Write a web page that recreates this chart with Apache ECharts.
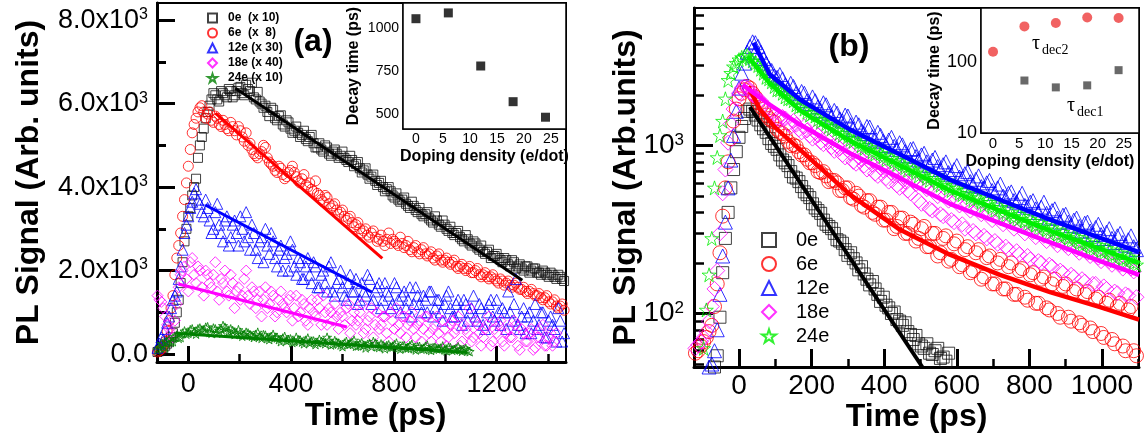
<!DOCTYPE html>
<html><head><meta charset="utf-8">
<script src="https://cdn.jsdelivr.net/npm/echarts@6/dist/echarts.min.js"></script>
<style>html,body{margin:0;padding:0;background:#fff}#c{width:1148px;height:445px}</style>
</head><body><div id="c"></div>
<script>
// ---------- DATA ----------
const time = [-120,-105,-90,-75,-60,-45,-30,-15,0,15,30,45,60,75,90,105,120,135,150,165,180,195,210,225,240,255,270,285,300,315,330,345,360,375,390,405,420,435,450,465,480,495,510,525,540,555,570,585,600,615,630,645,660,675,690,705,720,735,750,765,780,795,810,825,840,855,870,885,900,915,930,945,960,975,990,1005,1020,1035,1050,1065,1080,1095,1110,1125,1140,1155,1170,1185,1200,1215,1230,1245,1260,1275,1290,1305,1320,1335,1350,1365,1380,1395,1410,1425,1440,1455];
const time2 = [-112.5,-97.5,-82.5,-67.5,-52.5,-37.5,-22.5,-7.5,7.5,22.5,37.5,52.5,67.5,82.5,97.5,112.5,127.5,142.5,157.5,172.5,187.5,202.5,217.5,232.5,247.5,262.5,277.5,292.5,307.5,322.5,337.5,352.5,367.5,382.5,397.5,412.5,427.5,442.5,457.5,472.5,487.5,502.5,517.5,532.5,547.5,562.5,577.5,592.5,607.5,622.5,637.5,652.5,667.5,682.5,697.5,712.5,727.5,742.5,757.5,772.5,787.5,802.5,817.5,832.5,847.5,862.5,877.5,892.5,907.5,922.5,937.5,952.5,967.5,982.5,997.5,1012.5,1027.5,1042.5,1057.5,1072.5,1087.5,1102.5,1117.5,1132.5,1147.5,1162.5,1177.5,1192.5,1207.5,1222.5,1237.5,1252.5,1267.5,1282.5,1297.5,1312.5,1327.5,1342.5,1357.5,1372.5,1387.5,1402.5,1417.5,1432.5,1447.5,1462.5];

// panel (a) : linear PL signal (scaled) — values on time, then on time2
const a0e = [50,100,200,300,500,1000,1700,2700,3300,3800,4200,5000,5400,5800,6100,6200,6050,6250,6150,6300,6200,6380,6250,6450,6300,6150,6280,6000,5950,5700,5850,5600,5720,5450,5550,5300,5450,5200,5350,5100,5250,4950,5050,4850,4950,4750,4900,4700,4850,4650,4750,4500,4600,4350,4450,4200,4300,4050,4150,3900,4000,3800,3850,3650,3750,3550,3650,3450,3500,3300,3400,3200,3300,3100,3200,3000,3050,2850,2950,2750,2850,2650,2700,2550,2600,2400,2500,2350,2400,2250,2300,2150,2250,2050,2150,2000,2100,2000,2050,1950,2000,1900,1950,1850,1900,1800];
const a0e2 = [70,150,250,400,750,1300,2200,3000,3500,4000,4700,5200,5650,5950,6250,6100,6300,6200,6350,6150,6300,6400,6200,6350,6500,6100,6050,5900,5800,5900,5650,5700,5500,5600,5400,5350,5300,5250,5150,5200,5050,4950,4900,5000,4800,4850,4800,4750,4700,4600,4650,4550,4450,4400,4300,4250,4150,4100,4000,3950,3900,3750,3700,3700,3600,3500,3550,3400,3350,3350,3250,3150,3200,3050,3100,2950,2900,2900,2800,2700,2750,2600,2650,2500,2450,2450,2300,2350,2300,2200,2250,2100,2200,2100,2050,2100,1950,2050,1950,1900,1950,1850,1900,1800,1850,1750];
const a6e = [50,120,300,800,1400,2300,2900,3700,4500,5300,5650,5900,5800,5750,5600,5700,5500,5600,5400,5550,5350,5450,5200,5300,5050,4800,4700,4850,4950,4600,4500,4350,4450,4200,4350,4500,4250,4100,4300,4000,3950,4150,3800,3650,3750,3500,3600,3350,3450,3200,3300,3050,3150,2900,3000,2800,2950,2700,2850,2600,2900,2750,2650,2800,2550,2700,2450,2600,2400,2550,2350,2450,2250,2400,2200,2300,2150,2250,2050,2150,2000,2100,1950,2050,1850,1950,1800,1900,1750,1800,1650,1750,1600,1700,1550,1600,1450,1550,1400,1450,1300,1400,1200,1300,1100,1200];
const a6e2 = [80,200,550,1100,1900,2600,3300,4100,4900,5500,5800,5950,5650,5800,5550,5650,5450,5500,5350,5450,5250,5350,5100,5000,4900,4750,4800,5000,4700,4550,4400,4500,4300,4250,4400,4350,4150,4200,4050,4100,3900,3850,3700,3800,3600,3550,3450,3400,3300,3250,3150,3100,3000,2950,2850,2900,2800,2750,2700,2750,2650,2700,2600,2650,2600,2500,2550,2450,2500,2400,2400,2300,2350,2250,2250,2200,2200,2100,2100,2050,2050,1950,2000,1900,1900,1850,1850,1800,1700,1750,1700,1650,1650,1600,1550,1500,1500,1450,1400,1350,1350,1250,1250,1150,1150,1050];
const a12e = [150,400,600,900,1300,1500,2100,2900,3300,3650,3950,3600,3300,3500,2900,3400,3100,2700,3300,2800,3200,2600,3000,3400,2500,2900,2300,2800,3000,2400,2700,2100,2600,2300,2000,2500,1900,2200,1800,2300,1700,2100,1600,2000,1500,2200,1400,1800,1600,1300,1900,1500,1200,1700,1400,1800,1300,1600,1100,1700,1400,1200,1600,1000,1500,1300,900,1600,1200,1400,1000,1500,1100,1300,800,1400,1100,900,1300,700,1200,1000,1400,800,1100,600,1200,900,1300,700,1000,1500,800,1800,600,1100,900,500,1200,700,1000,400,900,600,1100,300];
const a12e2 = [250,350,750,1100,1400,1800,2500,3100,3500,3850,3700,3400,3700,3200,3000,3600,2900,3200,2600,3100,2900,3300,2700,2800,3100,2500,2700,2200,2600,2900,2300,2500,2000,2400,2700,2100,2300,1800,2100,1900,2200,1600,1900,1700,2100,1500,1700,2000,1400,1700,1500,1800,1300,1500,1900,1200,1500,1700,1300,1500,1100,1700,1300,1400,1100,1600,1200,1400,1000,1300,1500,900,1300,1000,1200,1500,900,1200,1000,1300,800,1100,900,1200,700,1000,1300,800,1000,1100,600,1000,1200,700,900,500,1000,800,600,1000,400,800,700,300,800,500];
const a18e = [1400,1250,900,600,400,1200,1900,2100,1500,2300,1700,2000,1400,1900,1600,2200,1300,1700,1500,1900,1100,1600,1400,2000,1200,1500,1300,900,1600,1200,1400,1000,1500,1100,1300,800,1400,1000,1200,700,1300,900,1100,1400,700,1000,1200,600,900,1100,500,1000,800,1200,600,900,400,1000,700,900,300,800,1100,500,900,700,1000,400,800,600,900,300,700,500,800,200,700,500,900,300,600,1100,400,700,200,600,900,300,500,800,200,600,400,700,100,500,300,600,150,400,700,200,500,300];
const a18e2 = [1300,1100,700,500,800,1600,2000,1800,2200,1900,2100,1600,2000,1700,1900,1500,1800,2000,1400,1700,1500,1300,1800,1400,1600,1100,1500,1300,1100,1500,900,1300,1200,1000,1400,1100,900,1300,800,1100,1000,1300,700,1000,1100,800,900,1000,700,1200,800,700,1000,500,800,1100,700,600,900,500,1000,600,700,900,400,800,600,700,300,900,500,600,900,300,600,400,800,600,200,700,500,300,800,500,400,700,200,600,700,300,500,400,800,200,600,300,500,100,400,600,200,400,200,500];
const a24e = [100,250,150,350,300,450,400,550,500,600,480,620,550,650,500,600,560,680,520,600,470,580,430,520,460,400,520,380,450,350,470,390,300,420,340,280,400,330,250,380,300,230,350,280,400,220,320,260,180,300,240,330,200,270,150,250,300,180,240,130,220,170,260,120,200,150,230,100,180,130,210,90,160,120,190,80,150,110,170,70,130,60];
const a24e2 = [150,200,300,280,420,380,500,480,580,530,600,570,640,520,620,500,600,640,540,560,500,520,470,500,430,470,420,460,380,420,400,350,380,320,360,300,340,290,330,270,310,280,300,250,330,240,280,220,260,230,280,190,240,210,230,180,260,160,210,200,170,220,150,190,140,200,130,170,120,180,110,150,130,140,100,160,90,130,100,110,80];

const fitA0e = [[183,6370],[1300,1770]];
const fitA6e = [[105,5770],[755,2290]];
const fitA12e = [[66,3570],[714,1485]];
const fitA18e = [[-39,1680],[617,650]];
const fitA24e = [[-50,500],[1085,40]];

// panel (b) : log PL signal
const b0e = [30,34,38,44,56,175,400,720,1120,1450,1650,1520,1330,1200,1030,950,820,760,650,610,530,490,425,395,340,320,275,262,222,212,182,172,148,140,118,112,100,92,85,78,70,66,62,58,60,54,52];
const b0e2 = [32,36,41,48,95,280,560,920,1300,1600,1600,1420,1260,1100,990,880,790,700,640,570,510,450,410,360,330,300,270,240,230,200,190,160,155,130,125,108,102,90,88,75,74,64,66,57,62,55,58];
const b6e = [58,64,72,85,150,380,800,1400,1900,2150,2200,1950,1700,1520,1400,1250,1180,1060,1010,920,880,790,760,690,660,620,600,540,560,480,500,430,470,390,430,360,400,330,370,300,340,280,330,250,300,230,290,210,270,195,250,180,240,165,220,150,210,140,200,130,185,120,175,115,165,105,160,95,150,90,140,85,135,78,125,72,120,66,115,60,110,56];
const b6e2 = [60,68,78,110,230,560,1100,1650,2050,2250,2050,1800,1650,1450,1380,1200,1140,1000,990,880,830,790,700,700,610,620,540,560,490,520,440,470,400,430,360,400,320,370,300,350,270,320,250,300,220,280,205,260,190,240,175,230,160,215,150,200,140,190,130,180,125,170,115,160,108,150,100,145,95,135,88,130,82,122,76,115,70,110,64,105,60,100];
const b12e = [40,42,46,50,80,220,560,1150,2200,3100,3900,4100,3600,3100,2800,2550,2500,2200,2250,1950,2050,1780,1850,1620,1750,1480,1560,1400,1500,1250,1330,1180,1290,1080,1150,1000,1120,950,1010,870,960,820,900,760,850,720,800,670,760,640,700,580,660,560,620,520,590,480,530,460,520,430,470,400,460,370,420,350,390,335,370,310,350,295,340,280,320,265,300,255,290,240];
const b12e2 = [41,44,48,60,130,350,820,1600,2700,3600,4150,3900,3300,2900,2600,2650,2300,2350,2050,2100,1850,1950,1700,1800,1560,1620,1440,1520,1330,1380,1220,1300,1130,1200,1060,1080,990,1040,920,950,860,880,800,820,750,770,690,720,650,680,610,630,570,600,540,560,500,520,470,490,440,460,420,430,395,410,370,385,350,360,330,345,310,325,295,305,280,290,265,275,250,260];
const b18e = [62,68,78,110,180,520,1040,1650,2050,2250,2150,1950,1850,1650,1600,1450,1480,1350,1400,1250,1300,1150,1200,1050,1100,980,1000,880,940,800,850,760,800,680,740,640,690,580,640,540,620,470,580,420,540,390,510,360,480,340,450,310,420,290,400,270,370,250,350,235,330,220,305,205,290,195,270,180,255,170,240,160,230,150,215,145,205,135,195,130,185,125];
const b18e2 = [65,72,90,140,300,720,1350,1900,2200,2200,2000,1900,1750,1600,1550,1420,1450,1300,1330,1200,1230,1100,1150,1020,1060,930,960,850,900,780,830,720,770,660,710,610,660,560,610,520,590,450,550,410,500,380,470,350,440,320,410,300,390,280,360,260,340,240,320,225,300,210,285,200,270,190,255,175,245,165,230,155,220,150,205,140,195,132,185,128,178,120];
const b24e = [35,45,105,280,850,1400,2450,2950,3250,3400,3300,3100,2850,2550,2400,2150,2050,1900,1850,1700,1650,1520,1500,1390,1350,1260,1240,1150,1130,1060,1040,960,980,890,900,820,840,770,780,710,730,660,680,620,640,580,600,540,560,510,520,470,490,440,460,410,430,385,400,360,380,340,355,320,335,300,315,285,295,270,285,255,265,240,255,230,240,215,230,205,215,195];
const b24e2 = [38,62,170,560,1150,1900,2700,3100,3350,3450,3200,3000,2700,2500,2250,2150,1950,1900,1750,1720,1580,1560,1430,1420,1300,1300,1190,1190,1090,1100,1000,1010,920,940,860,870,800,810,740,760,690,710,640,660,600,620,560,580,520,545,490,505,460,475,430,445,400,420,375,390,355,365,335,345,315,325,295,305,280,290,262,272,248,258,235,245,222,230,210,218,200,206];

const fitB0e = [[30,1700],[505,48]];
const fitB6e = [[25,2250],[58,1640],[100,1280],[168,946],[306,510],[444,315],[581,224],[719,170],[857,134],[995,109],[1102,92]];
const fitB12e = [[40,4100],[85,2650],[168,1880],[306,1245],[444,884],[581,627],[719,476],[857,362],[995,282],[1102,232]];
const fitB18e = [[10,2300],[85,1750],[168,1335],[306,900],[444,640],[581,450],[719,345],[857,265],[995,205],[1102,170]];
const fitB24e = [[25,3400],[85,2350],[168,1620],[306,1070],[444,760],[581,540],[719,410],[857,311],[995,243],[1102,200]];

// insets
const dopingA = [0,6,12,18,24];
const decayA = [1058,1092,781,572,481];
const dopingB2 = [0,6,12,18,24];
const tauDec2 = [140,319,357,425,418];
const dopingB1 = [6,12,18,24];
const tauDec1 = [55,44,47,77];

// names & ticks
const namesA = ['0e  (x 10)','6e  (x  8)','12e (x 30)','18e (x 40)','24e (x 10)'];
const namesB = ['0e','6e','12e','18e','24e'];
const xTicksA = [0,400,800,1200], xMinorA = [200,600,1000,1400];
const yTicksA = [0,2000,4000,6000,8000], yMinorA = [1000,3000,5000,7000];
const yLabelsA = ['0.0','2.0x10','4.0x10','6.0x10','8.0x10'];
const xTicksB = [0,200,400,600,800,1000], xMinorB = [100,300,500,700,900,1100];
const yTicksB = [100,1000], yMinorB = [50,60,70,80,90,200,300,400,500,600,700,800,900,2000,3000,4000,5000,6000];
const inXTicks = [0,5,10,15,20,25], inXMinor = [2.5,7.5,12.5,17.5,22.5,27.5];
const inAYTicks = [500,750,1000], inAYMinor = [625,875,1125];
const inBYTicks = [10,100], inBYMinor = [20,30,40,50,60,70,80,90,200,300,400,500];

// ---------- CHART ----------
const F = '"Liberation Sans", Arial, Helvetica, sans-serif';
const SER = '"Liberation Serif", "Times New Roman", serif';
const STAR = 'path://M0,-10 L2.245,-3.09 L9.51,-3.09 L3.63,1.18 L5.88,8.09 L0,3.82 L-5.88,8.09 L-3.63,1.18 L-9.51,-3.09 L-2.245,-3.09 Z';
const plain = (v) => String(Math.round(v));

function mkAxis(o) {
  const ax = {
    type: o.type || 'value', gridIndex: o.grid, min: o.min, max: o.max, position: o.pos,
    axisLine: {show: o.line !== false, onZero: false, lineStyle: {color: '#000', width: o.lw || 3}},
    axisTick: {show: true, inside: true, length: o.tl, customValues: o.ticks, lineStyle: {color: '#000', width: o.tw || 3}},
    axisLabel: o.labels ? {show: true, customValues: o.ticks, color: '#000', fontFamily: F, fontSize: o.fs, margin: o.margin, formatter: o.fmt || plain, rich: o.rich} : {show: false},
    splitLine: {show: false}, minorTick: {show: false}, minorSplitLine: {show: false}
  };
  if (o.type === 'log') ax.logBase = 10;
  if (o.name) {
    ax.name = o.name; ax.nameLocation = 'middle'; ax.nameGap = o.gap; ax.nameMoveOverlap = false;
    ax.nameTextStyle = {fontFamily: F, fontSize: o.nfs, fontWeight: 'bold', color: '#000', padding: o.npad || 0};
  }
  return ax;
}
const supRich = (fs) => ({s: {fontSize: fs, verticalAlign: 'top', fontFamily: F, color: '#000'}});

const xAxis = [
  mkAxis({grid: 0, pos: 'bottom', min: -122, max: 1470, ticks: xTicksA, tl: 16, labels: true, fs: 27, margin: 9, name: 'Time (ps)', gap: 38, nfs: 32, npad: [0, 0, 0, 28]}),
  mkAxis({grid: 0, pos: 'bottom', min: -122, max: 1470, ticks: xMinorA, tl: 8, tw: 2.5, line: false}),
  mkAxis({grid: 1, pos: 'bottom', min: -2.4, max: 27.8, ticks: inXTicks, tl: 6, tw: 1.5, lw: 1.5, labels: true, fs: 14, margin: 3, name: 'Doping density (e/dot)', gap: 20, nfs: 16}),
  mkAxis({grid: 1, pos: 'bottom', min: -2.4, max: 27.8, ticks: inXMinor, tl: 3, tw: 1.5, line: false}),
  mkAxis({grid: 2, pos: 'bottom', min: -124, max: 1102, ticks: xTicksB, tl: 18, labels: true, fs: 28, margin: 5, name: 'Time (ps)', gap: 34, nfs: 32}),
  mkAxis({grid: 2, pos: 'bottom', min: -124, max: 1102, ticks: xMinorB, tl: 8, tw: 2.5, line: false}),
  mkAxis({grid: 3, pos: 'bottom', min: -2.3, max: 27.9, ticks: inXTicks, tl: 6, tw: 1.5, lw: 1.5, labels: true, fs: 15, margin: 3, name: 'Doping density (e/dot)', gap: 21, nfs: 16, npad: [0, 20, 0, 0]}),
  mkAxis({grid: 3, pos: 'bottom', min: -2.3, max: 27.9, ticks: inXMinor, tl: 3, tw: 1.5, line: false})
];
const yAxis = [
  mkAxis({grid: 0, pos: 'left', min: -190, max: 8410, ticks: yTicksA, tl: 18, labels: true, fs: 27, margin: 9,
    fmt: (v) => { const i = yTicksA.indexOf(Math.round(v)); return i <= 0 ? yLabelsA[0] : yLabelsA[i] + '{s|3}'; }, rich: supRich(16),
    name: 'PL Signal (Arb. units)', gap: 112, nfs: 32}),
  mkAxis({grid: 0, pos: 'left', min: -190, max: 8410, ticks: yMinorA, tl: 9, tw: 3, line: false}),
  mkAxis({grid: 1, pos: 'left', min: 412, max: 1150, ticks: inAYTicks, tl: 6, tw: 1.5, lw: 1.5, labels: true, fs: 14, margin: 4, name: 'Decay time (ps)', gap: 41, nfs: 16}),
  mkAxis({grid: 1, pos: 'left', min: 412, max: 1150, ticks: inAYMinor, tl: 3, tw: 1.5, line: false}),
  mkAxis({grid: 2, type: 'log', pos: 'left', min: 48, max: 6600, ticks: yTicksB, tl: 19, labels: true, fs: 28, margin: 10,
    fmt: (v) => '10{s|' + Math.round(Math.log10(v)) + '}', rich: supRich(17),
    name: 'PL Signal (Arb.units)', gap: 52, nfs: 32}),
  mkAxis({grid: 2, type: 'log', pos: 'left', min: 48, max: 6600, ticks: yMinorB, tl: 10, tw: 2.5, line: false}),
  mkAxis({grid: 3, type: 'log', pos: 'left', min: 10, max: 580, ticks: inBYTicks, tl: 6, tw: 1.5, lw: 1.5, labels: true, fs: 18, margin: 4,
    name: 'Decay time (ps)', gap: 38, nfs: 16}),
  mkAxis({grid: 3, type: 'log', pos: 'left', min: 10, max: 580, ticks: inBYMinor, tl: 3, tw: 1.5, line: false})
];

const series = [];
function scat(name, vals, vals2, ax, sym, size, color) {
  const data = vals.map((v, i) => [time[i], v]).concat(vals2.map((v, i) => [time2[i], v]));
  series.push({type: 'scatter', name: name, xAxisIndex: ax, yAxisIndex: ax, symbol: sym, symbolSize: size,
    data: data, clip: true, silent: true, z: 2, emphasis: {disabled: true},
    itemStyle: {color: 'rgba(0,0,0,0)', borderColor: color, borderWidth: 1}});
}
function fit(pts, ax, color, w) {
  series.push({type: 'line', xAxisIndex: ax, yAxisIndex: ax, data: pts, symbol: 'none', clip: true, silent: true, z: 6,
    lineStyle: {color: color, width: w}, emphasis: {disabled: true}});
}
function pairs(xs, ys) { return xs.map((x, i) => [x, ys[i]]); }

// panel (a)
scat(namesA[0], a0e, a0e2, 0, 'rect', 9, '#111');
scat(namesA[1], a6e, a6e2, 0, 'circle', 10, '#ff0000');
scat(namesA[2], a12e, a12e2, 0, 'triangle', 11, '#0000ff');
scat(namesA[3], a18e, a18e2, 0, 'diamond', 11, '#ff00ff');
scat(namesA[4], a24e, a24e2, 0, STAR, 9, '#008000');
fit(fitA0e, 0, '#000', 3); fit(fitA6e, 0, '#ff0000', 3); fit(fitA12e, 0, '#0000ff', 3);
fit(fitA18e, 0, '#ff00ff', 3); fit(fitA24e, 0, '#008000', 3);
// panel (b)
scat(namesB[0], b0e, b0e2, 4, 'rect', 12, '#111');
scat(namesB[1], b6e, b6e2, 4, 'circle', 14, '#ff0000');
scat(namesB[2], b12e, b12e2, 4, 'triangle', 14, '#0000ff');
scat(namesB[3], b18e, b18e2, 4, 'diamond', 15, '#ff00ff');
scat(namesB[4], b24e, b24e2, 4, STAR, 14, '#00ee00');
fit(fitB0e, 4, '#000', 4); fit(fitB6e, 4, '#ff0000', 4.5); fit(fitB12e, 4, '#0000ff', 4.5);
fit(fitB18e, 4, '#ff00ff', 4.5); fit(fitB24e, 4, '#00ee00', 4.5);
// insets
series.push({type: 'scatter', xAxisIndex: 2, yAxisIndex: 2, symbol: 'rect', symbolSize: 9, data: pairs(dopingA, decayA), itemStyle: {color: '#000'}, silent: true, z: 8});
series.push({type: 'scatter', xAxisIndex: 6, yAxisIndex: 6, symbol: 'circle', symbolSize: 10, data: pairs(dopingB2, tauDec2), itemStyle: {color: '#ee3b3b'}, silent: true, z: 8});
series.push({type: 'scatter', xAxisIndex: 6, yAxisIndex: 6, symbol: 'rect', symbolSize: 8, data: pairs(dopingB1, tauDec1), itemStyle: {color: '#444'}, silent: true, z: 8});

const grid = [
  {left: 157, top: 3, width: 409, height: 359, show: true, borderColor: '#000', borderWidth: 2, backgroundColor: 'transparent', outerBoundsMode: 'none', containLabel: false},
  {left: 403, top: 3, width: 163, height: 126, show: true, borderColor: '#000', borderWidth: 1.5, backgroundColor: '#fff', outerBoundsMode: 'none', containLabel: false, z: 3},
  {left: 694, top: 8, width: 445, height: 359, show: true, borderColor: '#000', borderWidth: 2, backgroundColor: 'transparent', outerBoundsMode: 'none', containLabel: false},
  {left: 981, top: 8, width: 158, height: 125, show: true, borderColor: '#000', borderWidth: 1.5, backgroundColor: '#fff', outerBoundsMode: 'none', containLabel: false, z: 3}
];

const option = {
  animation: false,
  backgroundColor: '#fff',
  grid: grid, xAxis: xAxis, yAxis: yAxis, series: series,
  legend: [
    {data: namesA, orient: 'vertical', left: 202, top: 7, itemWidth: 9, itemHeight: 9, itemGap: 3, selectedMode: false, symbolKeepAspect: true,
      textStyle: {fontFamily: F, fontSize: 12, fontWeight: 'bold', color: '#000', padding: [0, 0, 0, 6]}},
    {data: namesB, orient: 'vertical', left: 756, top: 225, itemWidth: 14, itemHeight: 14, itemGap: 4, selectedMode: false, symbolKeepAspect: true,
      textStyle: {fontFamily: F, fontSize: 20, color: '#000', padding: [0, 0, 0, 15]}}
  ],
  graphic: [
    {type: 'text', x: 313, y: 42, z: 100, style: {text: '(a)', fontFamily: F, fontSize: 32, fontWeight: 'bold', fill: '#000', align: 'center', verticalAlign: 'middle'}},
    {type: 'text', x: 849, y: 47, z: 100, style: {text: '(b)', fontFamily: F, fontSize: 32, fontWeight: 'bold', fill: '#000', align: 'center', verticalAlign: 'middle'}},
    {type: 'text', x: 1032, y: 44, z: 100, style: {text: 'τ', fontFamily: SER, fontSize: 20, fill: '#000', align: 'left', verticalAlign: 'middle'}},
    {type: 'text', x: 1042, y: 50, z: 100, style: {text: 'dec2', fontFamily: SER, fontSize: 14, fill: '#000', align: 'left', verticalAlign: 'middle'}},
    {type: 'text', x: 1067, y: 106, z: 100, style: {text: 'τ', fontFamily: SER, fontSize: 20, fill: '#000', align: 'left', verticalAlign: 'middle'}},
    {type: 'text', x: 1077, y: 112, z: 100, style: {text: 'dec1', fontFamily: SER, fontSize: 14, fill: '#000', align: 'left', verticalAlign: 'middle'}}
  ]
};
const chart = echarts.init(document.getElementById('c'), null, {renderer: 'canvas'});
chart.setOption(option);
</script>
</body></html>
